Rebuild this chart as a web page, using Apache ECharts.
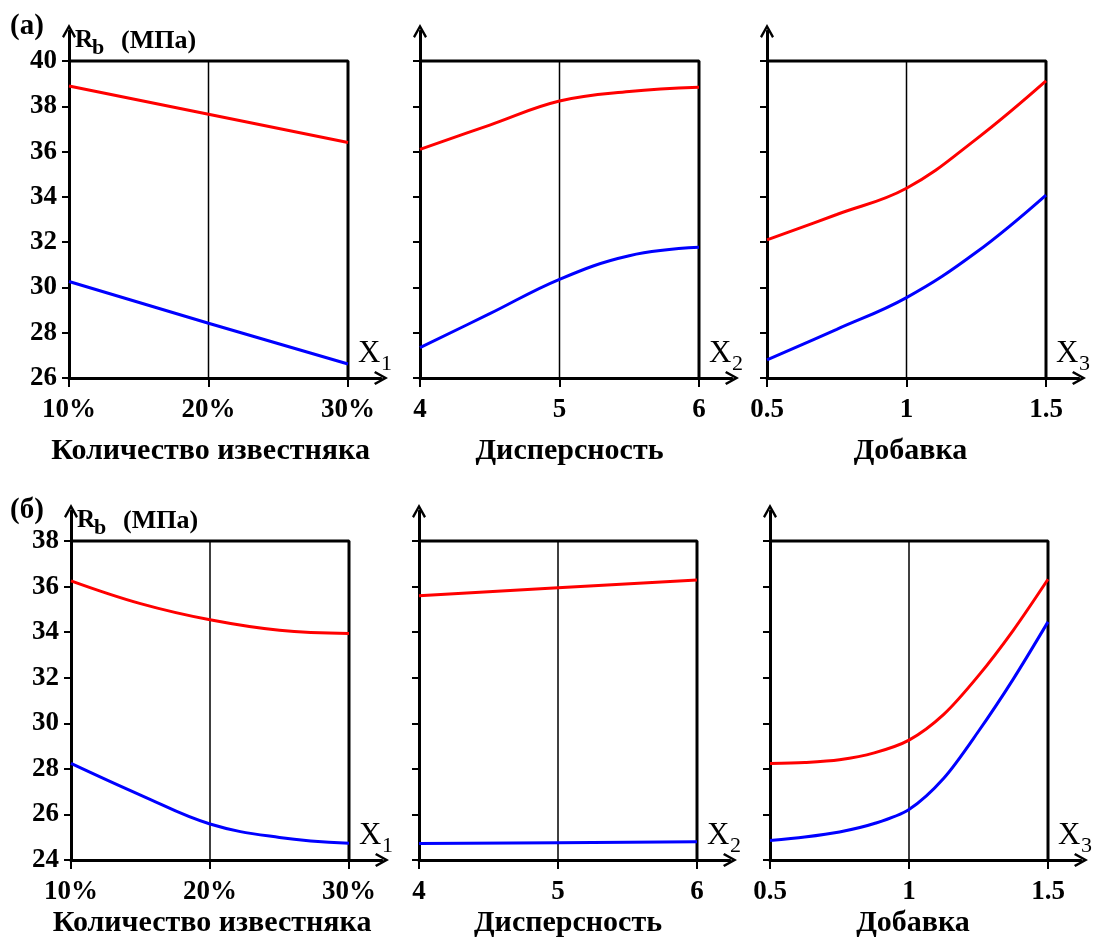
<!DOCTYPE html>
<html><head><meta charset="utf-8">
<script src="https://cdn.jsdelivr.net/npm/echarts@6/dist/echarts.min.js"></script>
<style>html,body{margin:0;padding:0;background:#fff}#c{width:1094px;height:942px}</style>
</head><body><div id="c"></div>
<script>
// ---------- data ----------
const x1Ticks = [10, 20, 30];
const x2Ticks = [4, 5, 6];
const x3Ticks = [0.5, 1, 1.5];
const yTicksA = [26, 28, 30, 32, 34, 36, 38, 40];
const yTicksB = [24, 26, 28, 30, 32, 34, 36, 38];
const xNames = ['Количество известняка', 'Дисперсность', 'Добавка'];
const xSubs = ['1', '2', '3'];
const panelTags = ['(а)', '(б)'];

// (а) row
const aX1 = [10, 20, 30];
const aX1Red = [38.9, 37.65, 36.4];
const aX1Blue = [30.26, 28.42, 26.62];
const aX2 = [4, 4.5, 5, 5.5, 6];
const aX2Red = [36.1, 37.17, 38.23, 38.65, 38.84];
const aX2Blue = [27.34, 28.84, 30.36, 31.4, 31.77];
const aX3 = [0.5, 0.75, 1, 1.25, 1.5];
const aX3Red = [32.1, 33.22, 34.38, 36.55, 39.12];
const aX3Blue = [26.8, 28.15, 29.55, 31.55, 34.08];
// (б) row
const bX1 = [10, 15, 20, 25, 30];
const bX1Red = [36.25, 35.25, 34.54, 34.08, 33.94];
const bX1Blue = [28.24, 26.85, 25.58, 24.99, 24.73];
const bX2 = [4, 5, 6];
const bX2Red = [35.6, 35.95, 36.29];
const bX2Blue = [24.72, 24.76, 24.8];
const bX3 = [0.5, 0.625, 0.75, 0.875, 1, 1.125, 1.25, 1.375, 1.5];
const bX3Red = [28.23, 28.28, 28.4, 28.7, 29.26, 30.39, 32.09, 34.08, 36.32];
const bX3Blue = [24.86, 25.01, 25.23, 25.6, 26.22, 27.59, 29.65, 31.94, 34.45];

// ---------- layout ----------
const FONT = '"Liberation Serif", "Times New Roman", serif';
const rows = [
  { top: 61, h: 317, lefts: [69, 420, 767], w: 279, nameY: 451, tagY: 27, rbY: 41 },
  { top: 541, h: 319, lefts: [71, 419, 770], w: 278, nameY: 923, tagY: 511, rbY: 521 }
];
const nameShift = [2, 10, 4];
const extR = 33, extT = 30;
const arrow = 'path://M0,9 L5,0 L10,9 L8.6,10 L5,3.4 L1.4,10 Z';

const panels = [
  { r: 0, c: 0, x: aX1, red: aX1Red, blue: aX1Blue, xt: x1Ticks, yt: yTicksA, smooth: false },
  { r: 0, c: 1, x: aX2, red: aX2Red, blue: aX2Blue, xt: x2Ticks, yt: yTicksA, smooth: 0.4 },
  { r: 0, c: 2, x: aX3, red: aX3Red, blue: aX3Blue, xt: x3Ticks, yt: yTicksA, smooth: 0.4 },
  { r: 1, c: 0, x: bX1, red: bX1Red, blue: bX1Blue, xt: x1Ticks, yt: yTicksB, smooth: 0.4 },
  { r: 1, c: 1, x: bX2, red: bX2Red, blue: bX2Blue, xt: x2Ticks, yt: yTicksB, smooth: false },
  { r: 1, c: 2, x: bX3, red: bX3Red, blue: bX3Blue, xt: x3Ticks, yt: yTicksB, smooth: 0.3 }
];

const grid = [], xAxis = [], yAxis = [], series = [], graphic = [];
const zip = (xs, ys) => xs.map((v, i) => [v, ys[i]]);
function txt(x, y, text, size, bold, align) {
  return { type: 'text', silent: true, style: { x: x, y: y, text: text, fill: '#000',
    fontFamily: FONT, fontWeight: bold ? 'bold' : 'normal', fontSize: size,
    align: align || 'left', verticalAlign: 'middle',
    textAlign: align || 'left', textVerticalAlign: 'middle' } };
}

panels.forEach((p, i) => {
  const R = rows[p.r];
  const left = R.lefts[p.c], w = R.w, top = R.top, h = R.h;
  const xMin = p.xt[0], xMax = p.xt[p.xt.length - 1];
  const yMin = p.yt[0], yMax = p.yt[p.yt.length - 1];
  const axMax = xMin + (xMax - xMin) * (w + extR) / w;
  const ayMax = yMin + (yMax - yMin) * (h + extT) / h;
  grid.push({ left: left, top: top - extT, width: w + extR, height: h + extT });
  xAxis.push({
    gridIndex: i, type: 'value', min: xMin, max: axMax,
    axisLine: { show: true, onZero: false, lineStyle: { color: '#000', width: 3 },
      symbol: ['none', arrow], symbolSize: [14, 15] },
    axisTick: { show: true, customValues: p.xt, length: 9, lineStyle: { color: '#000', width: 2 } },
    axisLabel: { show: true, customValues: p.xt, margin: 19, color: '#000',
      fontFamily: FONT, fontWeight: 'bold', fontSize: 27,
      formatter: v => (p.c === 0 ? v + '%' : String(v)) },
    splitLine: { show: false }
  });
  yAxis.push({
    gridIndex: i, type: 'value', min: yMin, max: ayMax,
    axisLine: { show: true, onZero: false, lineStyle: { color: '#000', width: 3 },
      symbol: ['none', arrow], symbolSize: [14, 15] },
    axisTick: { show: true, customValues: p.yt, length: 7, lineStyle: { color: '#000', width: 2 } },
    axisLabel: { show: p.c === 0, customValues: p.yt, margin: 12, color: '#000',
      fontFamily: FONT, fontWeight: 'bold', fontSize: 27 },
    splitLine: { show: false }
  });
  const common = { xAxisIndex: i, yAxisIndex: i, type: 'line', symbol: 'none', silent: true, animation: false };
  // frame (top + right) and middle line
  series.push(Object.assign({}, common, {
    data: [[xMin, yMax], [xMax, yMax], [xMax, yMin]],
    lineStyle: { color: '#000', width: 3 }, z: 3
  }));
  series.push(Object.assign({}, common, {
    data: [[p.xt[1], yMin], [p.xt[1], yMax]],
    lineStyle: { color: '#000', width: 1.5 }, z: 3
  }));
  series.push(Object.assign({}, common, {
    data: zip(p.x, p.red), smooth: p.smooth, lineStyle: { color: '#ff0000', width: 3 }, z: 4
  }));
  series.push(Object.assign({}, common, {
    data: zip(p.x, p.blue), smooth: p.smooth, lineStyle: { color: '#0000ff', width: 3 }, z: 4
  }));

  // texts
  graphic.push(txt(left + w / 2 + nameShift[p.c], R.nameY, xNames[p.c], 30, true, 'center'));
  const xlx = left + w + 10, xly = top + h - 24;
  graphic.push(txt(xlx, xly, 'X', 31, false));
  graphic.push(txt(xlx + 23, xly + 10, xSubs[p.c], 22, false));
  if (p.c === 0) {
    graphic.push(txt(10, R.tagY, panelTags[p.r], 29, true));
    graphic.push(txt(left + 6, R.rbY, 'R', 25, true));
    graphic.push(txt(left + 23, R.rbY + 7, 'b', 22, true));
    graphic.push(txt(left + 52, R.rbY, '(МПа)', 26, true));
  }
});

const chart = echarts.init(document.getElementById('c'), null, { renderer: 'canvas' });
chart.setOption({
  backgroundColor: '#fff',
  animation: false,
  grid, xAxis, yAxis, series, graphic
});
</script></body></html>
